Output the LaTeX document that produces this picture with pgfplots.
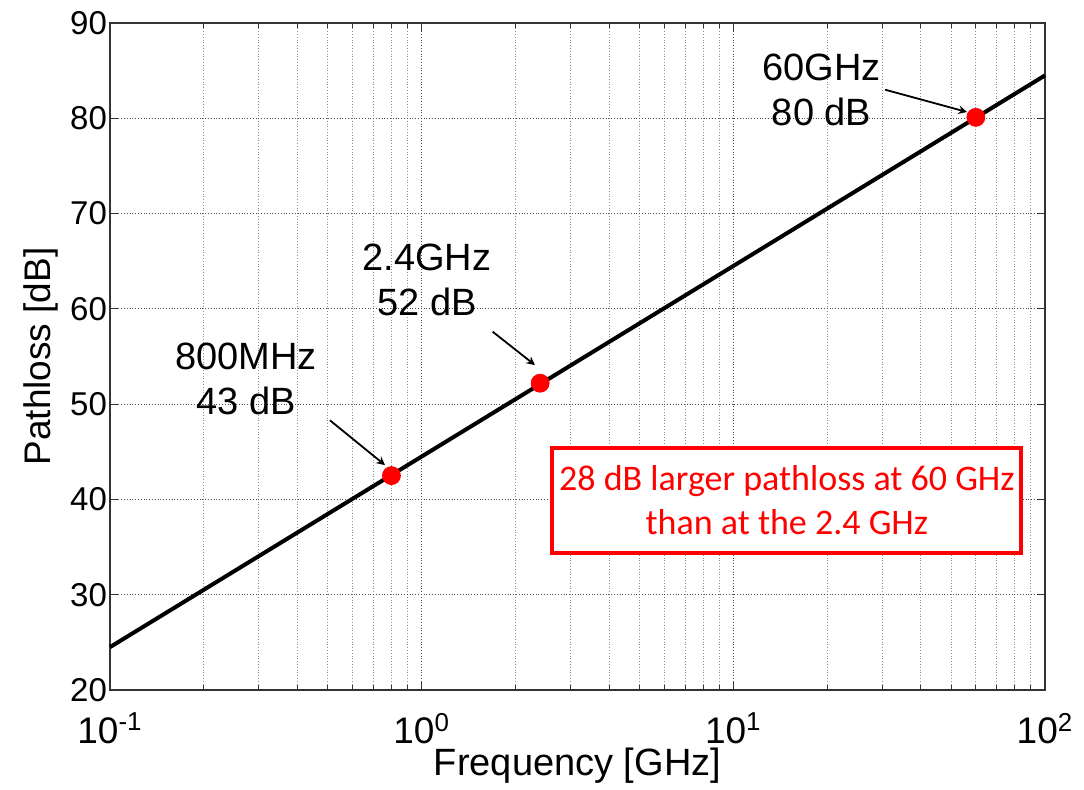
\documentclass[border=0pt]{standalone}
\usepackage{pgfplots}
\pgfplotsset{compat=1.18}
\usepackage{fontspec}
\setmainfont{Liberation Sans}
\newfontfamily\boxfont{Carlito}
\begin{document}
\begin{tikzpicture}
\begin{axis}[
    xmode=log,
    scale only axis,
    width=467.5pt, height=333.5pt,
    xmin=0.1, xmax=100,
    ymin=20, ymax=90,
    ytick={20,30,...,90},
    xtick={0.1,1,10,100},
    xticklabels={10\textsuperscript{-1},10\textsuperscript{0},10\textsuperscript{1},10\textsuperscript{2}},
    minor xtick={0.2,0.3,0.4,0.5,0.6,0.7,0.8,0.9,2,3,4,5,6,7,8,9,20,30,40,50,60,70,80,90},
    grid=both,
    major grid style={black!70, densely dotted, line width=0.5pt},
    minor grid style={black!45, densely dotted, line width=0.5pt},
    tick align=inside,
    major tick length=4pt,
    minor tick length=2.5pt,
    tick style={black!80, line width=0.5pt},
    axis line style={black!80, line width=0.6pt},
    /pgf/number format/assume math mode=true,
    yticklabel style={font=\fontsize{16.5}{18}\selectfont, xshift=2pt},
    xticklabel style={font=\fontsize{18.5}{20}\selectfont, yshift=-8pt},
    xlabel={Frequency [GHz]},
    ylabel={Pathloss [dB]},
    xlabel style={font=\fontsize{19}{21}\selectfont, yshift=5pt},
    ylabel style={font=\fontsize{18.5}{21}\selectfont, yshift=-1pt},
    clip=false,
]
\addplot[black, line width=2pt] coordinates {(0.1,24.5) (100,84.5)};
\addplot[only marks, mark=*, mark size=4.5pt, color=red] coordinates {(0.8,42.5) (2.4,52.2) (60,80.1)};

\draw[-stealth, line width=0.9pt] (axis cs:0.508,48.3) -- (axis cs:0.763,43.6);
\draw[-stealth, line width=0.9pt] (axis cs:1.69,57.6) -- (axis cs:2.31,54.1);
\draw[-stealth, line width=0.9pt] (axis cs:30.7,83.0) -- (axis cs:56.2,80.66);

\node[align=center, font=\fontsize{19}{22.5}\selectfont] at (axis cs:0.273,52.7) {800MHz\\43 dB};
\node[align=center, font=\fontsize{19}{22.5}\selectfont] at (axis cs:1.04,63.0) {2.4GHz\\52 dB};
\node[align=center, font=\fontsize{19}{22.5}\selectfont] at (axis cs:19.2,83.0) {60GHz\\80 dB};

\node[draw=red, line width=2pt, fill=white, text=red, align=center,
      minimum width=232.5pt, minimum height=52.5pt,
      font=\boxfont\fontsize{18}{22}\selectfont] at (axis cs:14.86,39.94)
      {28 dB larger pathloss at 60 GHz\\than at the 2.4 GHz};
\end{axis}
\pgfresetboundingbox
\useasboundingbox (-55pt,-49.5pt) rectangle (487pt,345pt);
\end{tikzpicture}
\end{document}
